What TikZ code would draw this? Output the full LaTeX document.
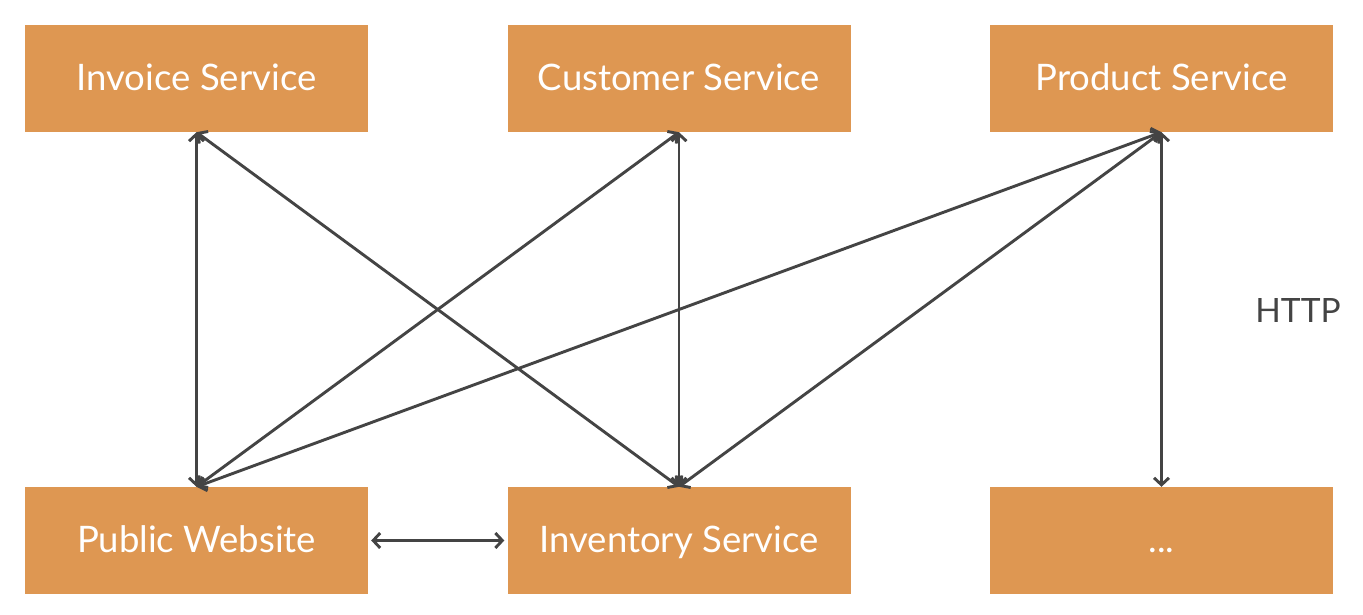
\documentclass[tikz,border=0pt]{standalone}
\usepackage{fontspec}
\setmainfont{Lato}
\usetikzlibrary{arrows.meta}
\definecolor{boxorange}{HTML}{DE9752}
\definecolor{linegrey}{HTML}{444444}
\begin{document}
\begin{tikzpicture}[x=1pt,y=1pt,
  svc/.style={fill=boxorange, draw=none, minimum width=343pt, minimum height=107pt, inner sep=0pt, text=white, text height=26pt, text depth=2pt, font=\fontsize{36.5}{42}\selectfont},
  link/.style={draw=linegrey, line width=2.9pt, {Straight Barb[length=7pt,width=15pt,line width=2.9pt]}-{Straight Barb[length=7pt,width=15pt,line width=2.9pt]}}
]
\useasboundingbox (0,0) rectangle (1363,614);
\node[svc] (inv) at (196.5,535.5) {Invoice Service};
\node[svc] (cus) at (679,535.5) {Customer Service};
\node[svc] (pro) at (1161.5,535.5) {Product Service};
\node[svc] (pub) at (196.5,73.5) {Public Website};
\node[svc] (ivt) at (679,73.5) {Inventory Service};
\node[svc] (etc) at (1161.5,73.5) {...};
\node[text=linegrey, font=\fontsize{33.5}{38}\selectfont] (http) at (1298,304) {HTTP};
\draw[link] (inv.south) -- (pub.north);
\draw[link] (inv.south) -- (ivt.north);
\draw[link] (cus.south) -- (pub.north);
\draw[link] (cus.south) -- (ivt.north);
\draw[link] (pro.south) -- (pub.north);
\draw[link] (pro.south) -- (ivt.north);
\draw[link] (pro.south) -- (etc.north);
\draw[link] ([xshift=3pt]pub.east) -- ([xshift=-3pt]ivt.west);
\end{tikzpicture}
\end{document}
